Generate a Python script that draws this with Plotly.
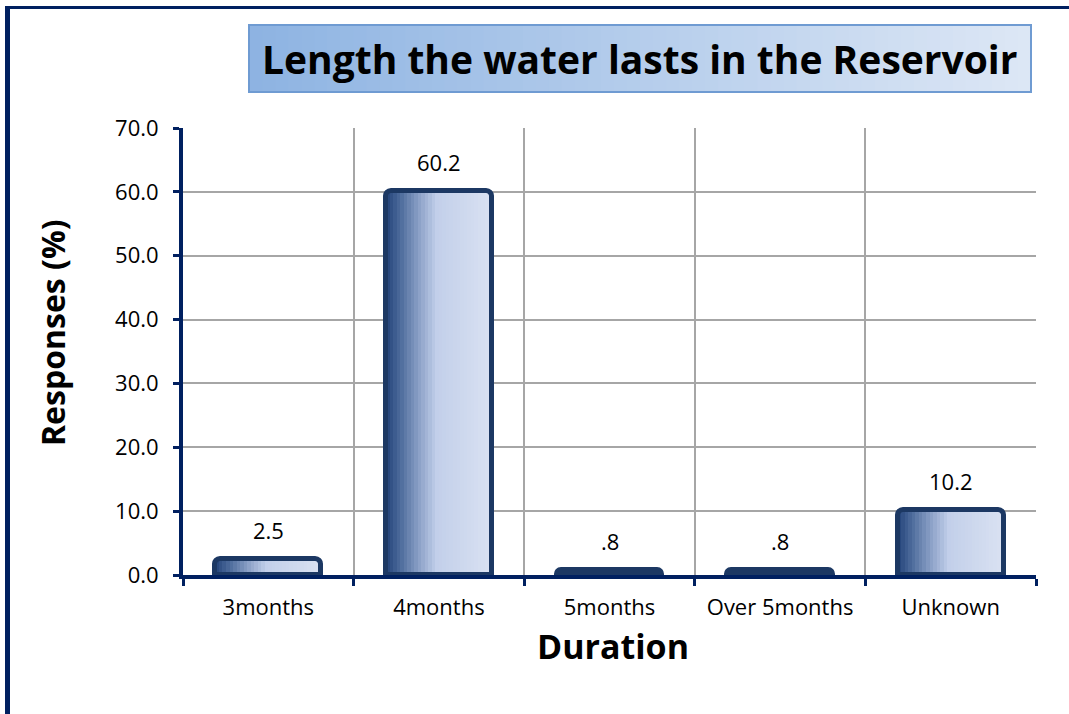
import plotly.graph_objects as go

# Survey responses: how long the reservoir water lasts
categories = ["3months", "4months", "5months", "Over 5months", "Unknown"]
responses = [2.5, 60.2, 0.8, 0.8, 10.2]
y_ticks = [0, 10, 20, 30, 40, 50, 60, 70]

W, H = 1069, 714
PLOT_L, PLOT_R, PLOT_T, PLOT_B = 183, 1036, 128, 575
NAVY = "#002060"
FONT = "Open Sans"

def px_x(px):
    return (px - PLOT_L) / (PLOT_R - PLOT_L)

def px_y(py):
    return (PLOT_B - py) / (PLOT_B - PLOT_T)

def lerp_color(stops, t):
    for (t0, c0), (t1, c1) in zip(stops, stops[1:]):
        if t0 <= t <= t1:
            f = (t - t0) / (t1 - t0) if t1 > t0 else 0
            a = [int(c0[i:i + 2], 16) for i in (1, 3, 5)]
            b = [int(c1[i:i + 2], 16) for i in (1, 3, 5)]
            return "#" + "".join(f"{round(x + (y - x) * f):02x}" for x, y in zip(a, b))
    return stops[-1][1]

bar_stops = [(0.0, "#23437a"), (0.15, "#52709f"), (0.32, "#8ea3c9"),
             (0.48, "#c2cfea"), (0.7, "#ccd7ed"), (1.0, "#dae2f2")]

fig = go.Figure()

# horizontal gradient fill built from narrow side-by-side strips
BAR_W = 0.62
N_STRIPS = 30
strip_w = BAR_W / N_STRIPS
for i in range(N_STRIPS):
    fig.add_trace(go.Bar(
        x=categories, y=responses,
        width=strip_w * 1.15, offset=-BAR_W / 2 + i * strip_w,
        marker=dict(color=lerp_color(bar_stops, (i + 0.5) / N_STRIPS), line=dict(width=0)),
        hoverinfo="skip", showlegend=False,
    ))

# outline on top of the gradient
fig.add_trace(go.Bar(
    x=categories, y=responses, width=BAR_W, offset=-BAR_W / 2,
    marker=dict(color="rgba(0,0,0,0)", line=dict(color="#1c3863", width=5),
                cornerradius=6),
    showlegend=False,
))

def fmt(v):
    s = f"{v:.1f}"
    return s[1:] if s.startswith("0.") else s

annotations = []
for c, v in zip(categories, responses):
    annotations.append(dict(x=c, y=v, xref="x", yref="y", text=fmt(v), showarrow=False,
                            yanchor="middle", yshift=29,
                            font=dict(family=FONT, size=22, color="#000")))

annotations += [
    dict(x=px_x(52), y=px_y(333), xref="paper", yref="paper", text="<b>Responses (%)</b>",
         xanchor="center", yanchor="middle",
         textangle=-90, showarrow=False, font=dict(family=FONT, size=32, color="#000")),
    dict(x=px_x(613), y=px_y(646), xref="paper", yref="paper", text="<b>Duration</b>",
         xanchor="center", yanchor="middle",
         showarrow=False, font=dict(family=FONT, size=34, color="#000")),
    dict(x=px_x(639), y=px_y(59), xref="paper", yref="paper",
         text="<b>Length the water lasts in the Reservoir</b>",
         xanchor="center", yanchor="middle",
         showarrow=False, font=dict(family=FONT, size=39, color="#000")),
]

shapes = []
# title box with left-to-right gradient
title_stops = [(0.0, "#8db3e2"), (1.0, "#dde7f5")]
TB_L, TB_R, TB_T, TB_B = 249, 1031, 25, 92
n = 60
for i in range(n):
    x0 = TB_L + (TB_R - TB_L) * i / n
    x1 = TB_L + (TB_R - TB_L) * (i + 1.2) / n
    shapes.append(dict(type="rect", xref="paper", yref="paper", layer="below",
                       x0=px_x(x0), x1=px_x(min(x1, TB_R)), y0=px_y(TB_B), y1=px_y(TB_T),
                       fillcolor=lerp_color(title_stops, (i + 0.5) / n), line=dict(width=0)))
shapes.append(dict(type="rect", xref="paper", yref="paper", layer="below",
                   x0=px_x(TB_L), x1=px_x(TB_R), y0=px_y(TB_B), y1=px_y(TB_T),
                   fillcolor="rgba(0,0,0,0)", line=dict(color="#6f9bd2", width=2)))
# outer frame: left and top edges
shapes.append(dict(type="line", xref="paper", yref="paper", x0=px_x(7.5), x1=px_x(7.5),
                   y0=px_y(6), y1=px_y(H + 5), line=dict(color=NAVY, width=5)))
shapes.append(dict(type="line", xref="paper", yref="paper", x0=px_x(5), x1=px_x(W + 5),
                   y0=px_y(7.5), y1=px_y(7.5), line=dict(color=NAVY, width=3)))

fig.update_layout(
    width=W, height=H,
    margin=dict(l=PLOT_L, r=W - PLOT_R, t=PLOT_T, b=H - PLOT_B, pad=0),
    paper_bgcolor="white", plot_bgcolor="white",
    barmode="overlay", bargap=0,
    annotations=annotations, shapes=shapes,
    xaxis=dict(type="category", tickson="boundaries", showgrid=True,
               gridcolor="#a6a6a6", gridwidth=1.5,
               showline=True, linecolor=NAVY, linewidth=4,
               ticks="outside", ticklen=7, tickwidth=3, tickcolor=NAVY,
               ticklabelstandoff=10,
               tickfont=dict(family=FONT, size=22, color="#000"),
               range=[-0.5, 4.5], fixedrange=True),
    yaxis=dict(range=[0, 70], tickvals=y_ticks, tickformat=".1f",
               showgrid=True, gridcolor="#a6a6a6", gridwidth=1.5,
               showline=True, linecolor=NAVY, linewidth=4,
               ticks="outside", ticklen=6, tickwidth=3, tickcolor=NAVY,
               ticklabelstandoff=10, zeroline=False,
               tickfont=dict(family=FONT, size=22, color="#000"), fixedrange=True),
    showlegend=False,
)

fig.write_html("out.html")
